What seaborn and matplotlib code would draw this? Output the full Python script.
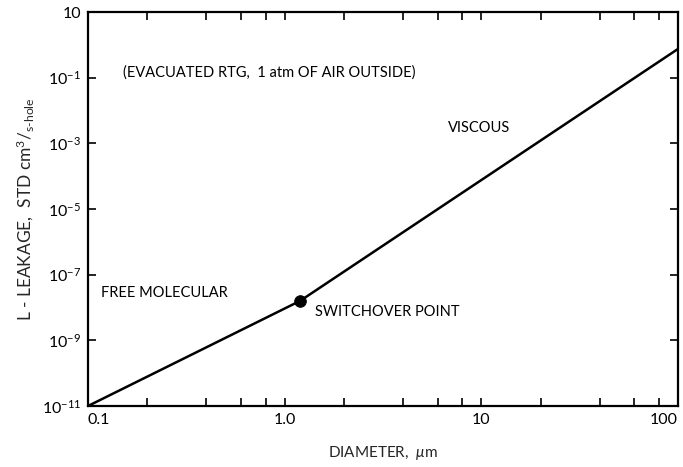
import numpy as np
import pandas as pd
import matplotlib
matplotlib.use("Agg")
import matplotlib.pyplot as plt
import matplotlib.ticker as mticker
import seaborn as sns

# Data
diameter_um = [0.1, 1.2, 100.0]
leakage = [1e-11, 1.6e-8, 0.75]
switch_d = [1.2]
switch_L = [1.6e-8]

x_tick_vals = [0.1, 0.2, 0.4, 0.6, 0.8, 1.0, 2, 4, 6, 8, 10, 20, 40, 60, 80, 100]
x_tick_labels = {0.1: "0.1", 1.0: "1.0", 10: "10", 100: "100"}
y_exps = [-11, -9, -7, -5, -3, -1, 1]

sns.set_style("ticks")
plt.rcParams['font.family'] = ['Lato', 'DejaVu Sans']
plt.rcParams['mathtext.fontset'] = 'custom'
plt.rcParams['mathtext.rm'] = 'Lato'
plt.rcParams['mathtext.it'] = 'Lato:italic'
plt.rcParams['mathtext.bf'] = 'Lato:bold'

fig = plt.figure(figsize=(6.83, 4.67), dpi=100)
ax = fig.add_axes([88/683, 1-406/467, (678-88)/683, (406-12)/467])

df = pd.DataFrame({"d": diameter_um, "L": leakage})
sns.lineplot(data=df, x="d", y="L", ax=ax, color="black", linewidth=1.8)
sns.scatterplot(x=switch_d, y=switch_L, ax=ax, color="black", s=70, zorder=5, edgecolor="black")

ax.set_xscale("log")
ax.set_yscale("log")
ax.set_xlim(0.1, 100)
ax.set_ylim(1e-11, 10)

ax.xaxis.set_major_locator(mticker.FixedLocator(x_tick_vals))
ax.xaxis.set_major_formatter(mticker.FixedFormatter([x_tick_labels.get(v, "") for v in x_tick_vals]))
ax.xaxis.set_minor_locator(mticker.NullLocator())
yt = [10.0**e for e in y_exps]
ax.yaxis.set_major_locator(mticker.FixedLocator(yt))
ax.yaxis.set_major_formatter(mticker.FixedFormatter(["$10^{%d}$" % e if e != 1 else "10" for e in y_exps]))
ax.yaxis.set_minor_locator(mticker.NullLocator())

ax.tick_params(which="major", direction="in", length=6, width=1.2, top=True, right=True,
               labelsize=11.5, pad=5, colors="black")
for s in ax.spines.values():
    s.set_linewidth(1.6)
    s.set_color("black")
    s.set_visible(True)

fig.canvas.draw()
xl = ax.get_xticklabels()
xl[0].set_horizontalalignment("left")
xl[-1].set_horizontalalignment("right")

ax.set_xlabel(r"DIAMETER,  $\mu$m", fontsize=11, labelpad=12)
ax.set_ylabel(r"L - LEAKAGE,  STD cm$^{3}$/$_{\rm s\text{-}hole}$", fontsize=12.5, labelpad=4)

tkw = dict(fontsize=10.5, color="black")
ax.text(0.15, 0.14, "(EVACUATED RTG,  1 atm OF AIR OUTSIDE)", ha="left", va="center", **tkw)
ax.text(6.8, 2.85e-3, "VISCOUS", ha="left", va="center", **tkw)
ax.text(0.116, 2.85e-8, "FREE MOLECULAR", ha="left", va="center", **tkw)
ax.text(1.42, 7.1e-9, "SWITCHOVER POINT", ha="left", va="center", **tkw)

fig.savefig("out.png", dpi=100)
